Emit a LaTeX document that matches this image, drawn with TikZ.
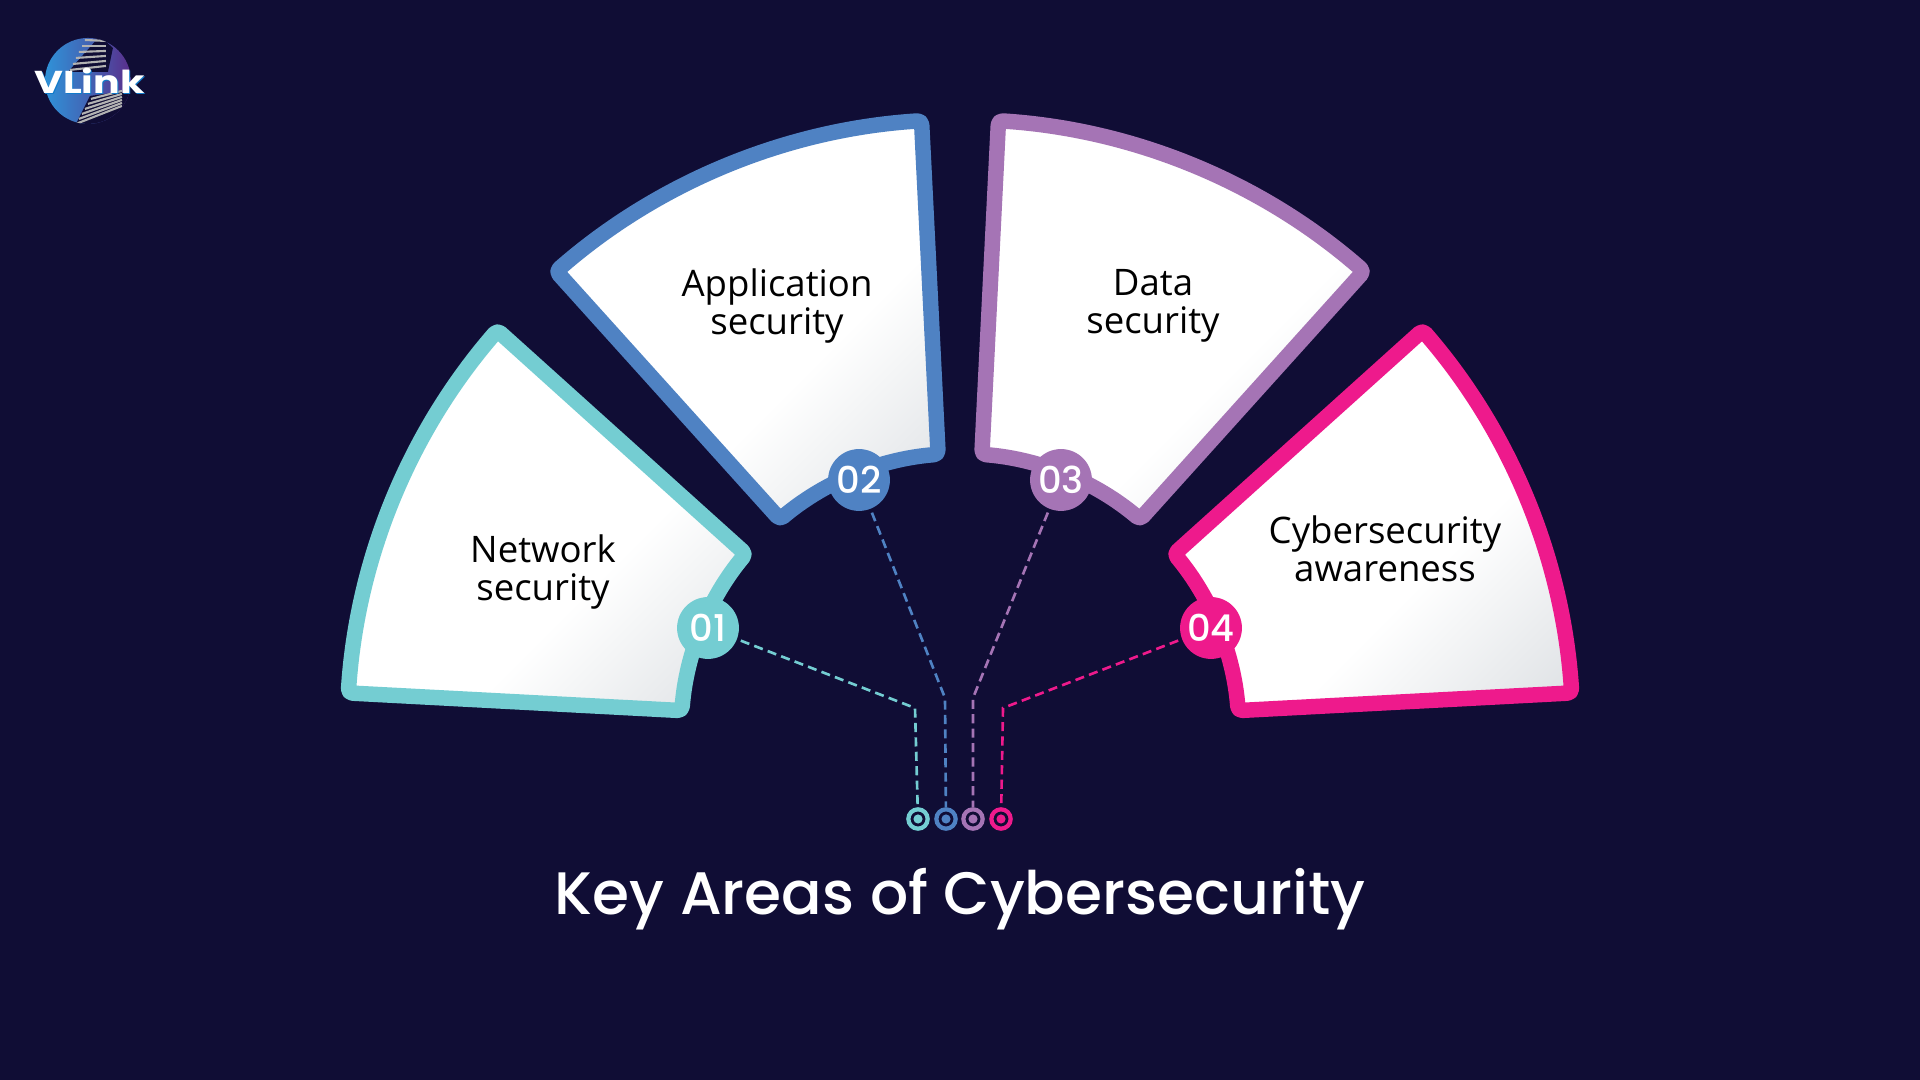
\documentclass[tikz,border=0pt]{standalone}
\usepackage{fontspec}
\usetikzlibrary{calc}
\setmainfont{Open Sans}
\newfontfamily\popmed{Poppins Medium}
\newfontfamily\popbold{Poppins}[UprightFont=*-Bold]
\definecolor{bgc}{HTML}{100D35}
\definecolor{ctal}{HTML}{74CDD2}
\definecolor{cblu}{HTML}{4F82C3}
\definecolor{cpur}{HTML}{A574B5}
\definecolor{cpnk}{HTML}{EE1A8C}
\definecolor{cend}{HTML}{E0E3E6}
\definecolor{lblu}{HTML}{2F92D8}
\definecolor{lpur}{HTML}{5A2C8A}
\pgfdeclareverticalshading{sectfade}{100bp}{color(0bp)=(cend); color(17bp)=(cend); color(40bp)=(white); color(100bp)=(white)}
\tikzset{
  sectorline/.style={line width=4.4pt,line join=round,rounded corners=1.2pt},
  badge/.style={circle,minimum size=17.6pt,inner sep=0pt,outer sep=1.2pt,text=white,font=\popmed\fontsize{10.5}{12}\selectfont},
  label/.style={align=center,text=black,font=\fontsize{10.4}{10.8}\selectfont},
  wire/.style={line width=0.75pt,dash pattern=on 2.6pt off 1.5pt},
  ring/.style={circle,minimum size=5.5pt,inner sep=0pt,outer sep=0.6pt,line width=1.2pt,draw},
}
\newcommand{\sectorpath}[4]{($(c)+(#1:6.13)$) arc[start angle=#1,end angle=#2,radius=6.13] -- ($(c)+(#3:2.79)$) arc[start angle=#3,end angle=#4,radius=2.79] -- cycle}
\newcommand{\sector}[5]{%
  \foreach \k/\o in {0.32/0.08,0.26/0.08,0.20/0.08,0.14/0.08,0.08/0.08}{
    \fill[black,opacity=\o,yshift=-\k cm] \sectorpath{#1}{#2}{#3}{#4};}
  \shade[shading=sectfade,shading angle=45] \sectorpath{#1}{#2}{#3}{#4};
  \draw[sectorline,draw=#5] \sectorpath{#1}{#2}{#3}{#4};
}
\begin{document}
\begin{tikzpicture}[x=1cm,y=1cm]
\useasboundingbox (0,0) rectangle (19.2,10.8);
\fill[bgc] (0,0) rectangle (19.2,10.8);
\coordinate (c) at (9.6,3.475);
% sectors
\sector{176.3}{139.0}{140.2}{175.5}{ctal}
\sector{131.2}{93.6}{94.5}{130.2}{cblu}
\sector{48.8}{86.4}{85.5}{49.8}{cpur}
\sector{3.7}{41.0}{39.8}{4.5}{cpnk}
% labels
\node[label] (t1) at (5.43,5.08) {Network\\security};
\node[label] (t2) at (7.77,7.74) {Application\\security};
\node[label] (t3) at (11.53,7.74) {Data\\security};
\node[label] (t4) at (13.85,5.31) {Cybersecurity\\awareness};
% badges
\node[badge,fill=ctal] (b1) at (7.08,4.52) {01};
\node[badge,fill=cblu] (b2) at (8.59,6.0) {02};
\node[badge,fill=cpur] (b3) at (10.61,6.0) {03};
\node[badge,fill=cpnk] (b4) at (12.11,4.52) {04};
% rings
\node[ring,draw=ctal] (d1) at (9.18,2.61) {};
\node[ring,draw=cblu] (d2) at (9.46,2.61) {};
\node[ring,draw=cpur] (d3) at (9.73,2.61) {};
\node[ring,draw=cpnk] (d4) at (10.01,2.61) {};
\fill[ctal] (d1) circle (1.3pt); \fill[cblu] (d2) circle (1.3pt);
\fill[cpur] (d3) circle (1.3pt); \fill[cpnk] (d4) circle (1.3pt);
\coordinate (e1) at (9.15,3.72);
\coordinate (e2) at (9.45,3.82);
\coordinate (e3) at (9.73,3.82);
\coordinate (e4) at (10.03,3.72);
\draw[wire,draw=ctal] (b1) -- (e1) -- (d1);
\draw[wire,draw=cblu] (b2) -- (e2) -- (d2);
\draw[wire,draw=cpur] (b3) -- (e3) -- (d3);
\draw[wire,draw=cpnk] (b4) -- (e4) -- (d4);
% title
\node[text=white,font=\popmed\fontsize{17.05}{20}\selectfont] (title) at (9.6,1.81) {Key Areas of Cybersecurity};
% logo (drawn in pixel coordinates)
\begin{scope}[shift={(0,10.8)},x=0.01cm,y=-0.01cm]
\begin{scope}
\clip (88,81) circle (43);
\shade[left color=lblu,right color=lpur,middle color=lblu!55!lpur] (45,38) rectangle (131,124);
\fill[bgc] (68,72) -- (100,36) -- (113,48) -- (108,72) -- cycle;
\foreach \i in {0,...,5}{\draw[gray!60,line width=0.6pt] (70+\i*3,70-\i*6) -- (106,66-\i*5);}
\fill[bgc] (74,128) -- (90,96) -- (135,90) -- (128,112) -- (100,128) -- cycle;
\foreach \i in {0,...,5}{\draw[gray!60,line width=0.6pt] (76+\i*3,124-\i*5) -- (122,106-\i*3);}
\end{scope}
\node[text=cyan!60!blue,font=\popbold\fontsize{9}{10}\selectfont,xscale=1.25] (logoglow) at (90.5,81.5) {VLink};
\node[text=white,font=\popbold\fontsize{9}{10}\selectfont,xscale=1.25] (logo) at (89.5,80.5) {VLink};
\end{scope}
\end{tikzpicture}
\end{document}
